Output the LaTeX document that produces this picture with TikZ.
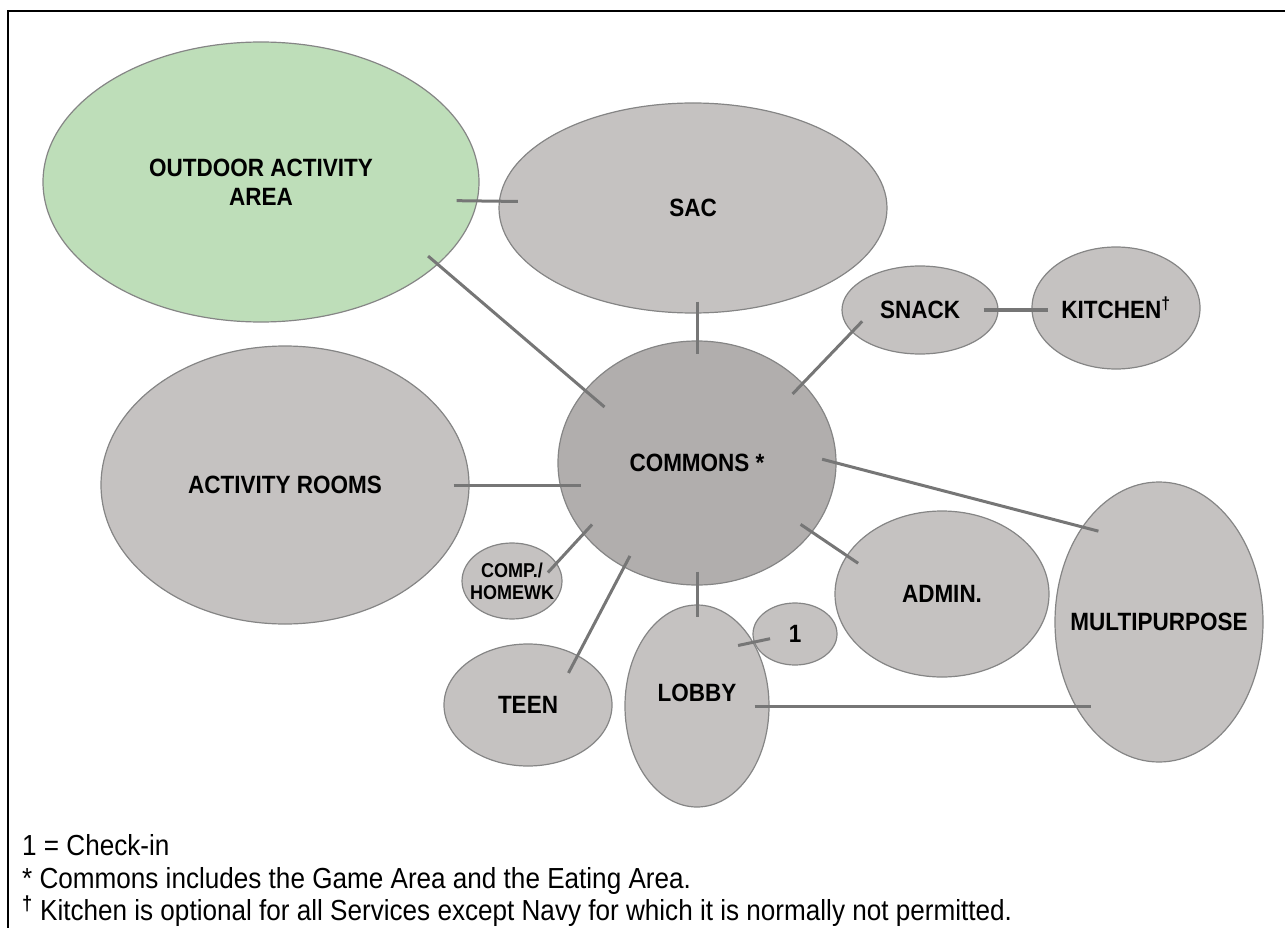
\documentclass[tikz,border=0pt]{standalone}
\usepackage{fontspec}
\setmainfont{Liberation Sans}[FakeStretch=0.9]
\usetikzlibrary{positioning,shapes.geometric}
\definecolor{roomgray}{HTML}{C5C2C1}
\definecolor{commonsgray}{HTML}{B1AEAD}
\definecolor{outdoorgreen}{HTML}{BEDEB9}
\definecolor{roomedge}{HTML}{858585}
\definecolor{linkgray}{HTML}{767676}

\begin{document}
\begin{tikzpicture}[x=1pt, y=-1pt,
    room/.style={ellipse, draw=roomedge, line width=1.2pt, fill=roomgray, inner sep=0pt},
    roomtext/.style={font=\fontsize{25}{29}\selectfont\bfseries, align=center, inner sep=0pt},
    every label/.style={roomtext},
    link/.style={draw=linkgray, line width=3pt},
    note/.style={anchor=base west, inner sep=0pt, font=\fontsize{29}{33}\selectfont},]
    \useasboundingbox (0,0) rectangle (1285,928);
    % frame
    \draw[line width=2pt] (8,940) -- (8,11) -- (1295,11);
    % nodes
    \node[room, fill=outdoorgreen, minimum width=436pt, minimum height=280pt,
          label={center:{OUTDOOR ACTIVITY\\AREA}}]              (outdoor)  at (261,182) {};
    \node[room, minimum width=388pt, minimum height=210pt, label={center:SAC}] (sac) at (693,208) {};
    \node[room, minimum width=156pt, minimum height=88pt, label={center:SNACK}] (snack) at (920,310) {};
    \node[room, minimum width=168pt, minimum height=122pt,
          label={center:KITCHEN\textsuperscript{†}}]            (kitchen)  at (1116,308) {};
    \node[room, fill=commonsgray, minimum width=278pt, minimum height=244pt,
          label={center:COMMONS *}]                              (commons)  at (697,463) {};
    \node[room, minimum width=368pt, minimum height=278pt,
          label={center:ACTIVITY ROOMS}]                         (actrooms) at (285,485) {};
    \node[room, minimum width=100pt, minimum height=76pt,
          label={[font=\fontsize{20}{22}\selectfont\bfseries]center:{COMP./\\HOMEWK}}] (comp) at (512,581) {};
    \node[room, minimum width=168pt, minimum height=122pt, label={center:TEEN}] (teen) at (528,705) {};
    \node[room, minimum width=144pt, minimum height=202pt,
          label={[yshift=13pt]center:LOBBY}]                     (lobby)    at (697,706) {};
    \node[room, minimum width=84pt, minimum height=62pt, label={center:1}] (checkin) at (795,634) {};
    \node[room, minimum width=214pt, minimum height=166pt, label={center:ADMIN.}] (admin) at (942,594) {};
    \node[room, minimum width=208pt, minimum height=280pt,
          label={center:MULTIPURPOSE}]                           (multi)    at (1159,622) {};
    % lines
    \draw[link, shorten <=-21pt, shorten >=-19pt] (outdoor.-5) -- (sac.178);
    \draw[link, shorten <=-13pt, shorten >=-26pt] (outdoor.-25) -- (commons.147);
    \draw[link, shorten <=-12pt, shorten >=-14pt] (sac.south -| commons.north) -- (commons.north);
    \draw[link, line width=4pt, shorten <=-15pt, shorten >=-17pt] (snack.east) -- (snack.east -| kitchen.west);
    \draw[link, shorten <=-15pt, shorten >=-15pt] (snack.198) -- (commons.37);
    \draw[link, shorten <=-15pt, shorten >=-17pt] (commons.0) -- (multi.129);
    \draw[link, shorten <=-14pt, shorten >=-14pt] (commons.-31) -- (admin.158);
    \draw[link, shorten <=-16pt, shorten >=-24pt] (actrooms.east) -- (actrooms.east -| commons.west);
    \draw[link, shorten <=-13pt, shorten >=-13pt] (commons.212) -- (comp.22);
    \draw[link, shorten <=-13pt, shorten >=-20pt] (commons.235) -- (teen.45);
    \draw[link, shorten <=-14pt, shorten >=-13pt] (commons.south) -- (lobby.north);
    \draw[link] ([xshift=-15pt, yshift=-4pt]lobby.49) -- ([xshift=16pt, yshift=4pt]checkin.192);
    \draw[link, shorten <=-15pt, shorten >=-37pt] (lobby.east) -- (lobby.east -| multi.west);
    % notes
    \node[note] (notecheckin) at (22,855) {1 = Check-in};
    \node[note] (notecommons) [below=33pt of notecheckin.base west, anchor=base west]
        {* Commons includes the Game Area and the Eating Area.};
    \node[note] (notekitchen) [below=32pt of notecommons.base west, anchor=base west]
        {\textsuperscript{\bfseries †} Kitchen is optional for all Services except Navy for which it is normally not permitted.};
\end{tikzpicture}
\end{document}
